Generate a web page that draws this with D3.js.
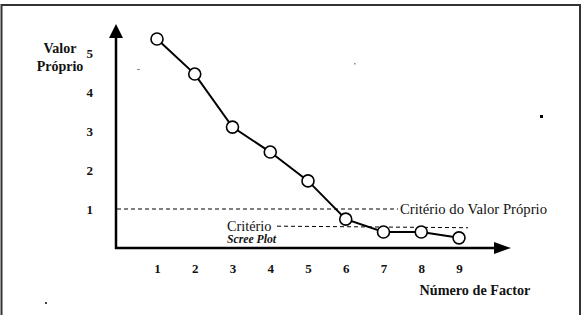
<!DOCTYPE html>
<html><head><meta charset="utf-8">
<script src="https://cdn.jsdelivr.net/npm/d3@7"></script>
<style>
body{margin:0;background:#fff;}
svg{display:block;}
</style></head>
<body>
<svg id="c" width="588" height="315"></svg>
<script>
const factors = [1,2,3,4,5,6,7,8,9];
const eigenvalues = [5.36,4.46,3.10,2.46,1.72,0.74,0.41,0.41,0.26];
const yTicks = [1,2,3,4,5];
const xTicks = [1,2,3,4,5,6,7,8,9];
const criterionValue = 1;
const screeCutoff = [0.56, 0.52];
const FONT = "'Liberation Serif', 'Times New Roman', serif";

const svg = d3.select("#c");
const x = d3.scaleLinear().domain([1,9]).range([157,459]);
const y = d3.scaleLinear().domain([0,5]).range([248,53]);

function txt(xp, yp, s, size, opts={}){
  const t = svg.append("text").attr("x",xp).attr("y",yp).attr("font-family",FONT)
    .attr("font-size",size).attr("fill","#111").text(s);
  if(opts.anchor) t.attr("text-anchor",opts.anchor);
  if(opts.bold) t.attr("font-weight","bold");
  if(opts.italic) t.attr("font-style","italic");
  return t;
}

// frame
svg.append("rect").attr("x",1.5).attr("y",5).attr("width",578.5).attr("height",330)
  .attr("fill","none").attr("stroke","#333").attr("stroke-width",2);

// criterion dashed line
svg.append("line").attr("x1",117).attr("x2",398).attr("y1",y(criterionValue)).attr("y2",y(criterionValue))
  .attr("stroke","#000").attr("stroke-width",1).attr("stroke-dasharray","4,3");
txt(400, y(criterionValue)+4.5, "Critério do Valor Próprio", 14.7);

// scree criterion dashed line
svg.append("line").attr("x1",277).attr("x2",468).attr("y1",y(screeCutoff[0])).attr("y2",y(screeCutoff[1]))
  .attr("stroke","#000").attr("stroke-width",1).attr("stroke-dasharray","4,3");
txt(227, y(screeCutoff[0])+4.5, "Critério", 14.3);
txt(227, 243, "Scree Plot", 11.7, {bold:true, italic:true});

// axes lines with arrows
svg.append("line").attr("x1",116).attr("x2",116).attr("y1",249).attr("y2",36)
  .attr("stroke","#000").attr("stroke-width",2.5);
svg.append("path").attr("d","M109,38 L116,24 L123,38 Z").attr("fill","#000");
svg.append("line").attr("x1",115).attr("x2",496).attr("y1",248).attr("y2",248)
  .attr("stroke","#000").attr("stroke-width",2.5);
svg.append("path").attr("d","M494,242 L511,248 L494,254 Z").attr("fill","#000");

// tick labels via axes
const ya = svg.append("g").attr("transform","translate(116,0)")
  .call(d3.axisLeft(y).tickValues(yTicks).tickSize(0).tickPadding(23).tickFormat(d3.format("d")));
ya.select(".domain").remove();
ya.attr("font-family",FONT).attr("font-size",13);
ya.selectAll("text").attr("font-weight","bold").attr("fill","#111");

const xa = svg.append("g").attr("transform","translate(0,248)")
  .call(d3.axisBottom(x).tickValues(xTicks).tickSize(0).tickPadding(16).tickFormat(d3.format("d")));
xa.select(".domain").remove();
xa.attr("font-family",FONT).attr("font-size",13);
xa.selectAll("text").attr("font-weight","bold").attr("fill","#111");

// axis titles
txt(60, 53, "Valor", 14, {anchor:"middle", bold:true});
txt(60, 71, "Próprio", 14, {anchor:"middle", bold:true});
txt(475, 295, "Número de Factor", 14.2, {anchor:"middle", bold:true});

// scree line
const line = d3.line().x((d,i)=>x(factors[i])).y(d=>y(d));
svg.append("path").datum(eigenvalues).attr("d",line).attr("fill","none").attr("stroke","#000").attr("stroke-width",2);
svg.selectAll("circle.pt").data(eigenvalues).enter().append("circle").attr("class","pt")
  .attr("cx",(d,i)=>x(factors[i])).attr("cy",d=>y(d)).attr("r",6)
  .attr("fill","#fff").attr("stroke","#000").attr("stroke-width",1.6);

// scan specks
svg.append("rect").attr("x",540).attr("y",115).attr("width",3).attr("height",3).attr("fill","#000");
svg.append("rect").attr("x",137).attr("y",69).attr("width",3).attr("height",1).attr("fill","#888");
svg.append("rect").attr("x",354).attr("y",63).attr("width",1.5).attr("height",1.5).attr("fill","#888");
svg.append("rect").attr("x",45).attr("y",302).attr("width",2).attr("height",2).attr("fill","#444");
</script>
</body></html>
